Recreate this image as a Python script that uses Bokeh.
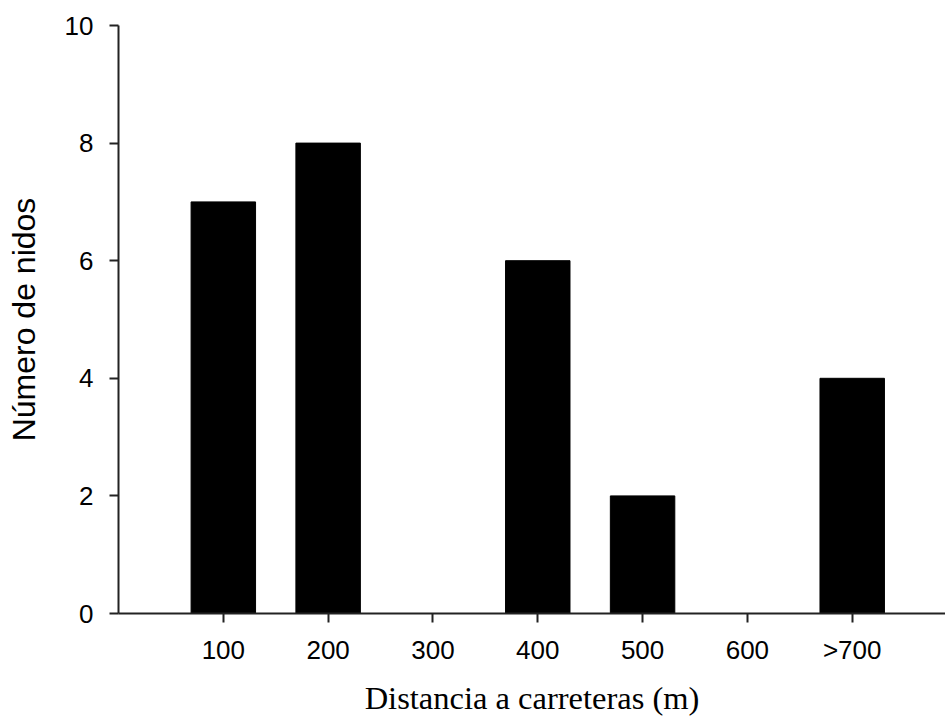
from bokeh.plotting import figure
from bokeh.models import Range1d, FixedTicker, ColumnDataSource
from bokeh.embed import file_html
from bokeh.resources import INLINE

# Nest counts by distance class to the nearest road
categories = ["100", "200", "300", "400", "500", "600", ">700"]
nests = [7, 8, 0, 6, 2, 0, 4]
y_ticks = [0, 2, 4, 6, 8, 10]

positions = list(range(1, len(categories) + 1))
source = ColumnDataSource(dict(x=positions, top=nests, label=categories))

p = figure(
    width=945, height=719,
    output_backend="svg", toolbar_location=None,
    x_range=Range1d(0, 7.89), y_range=Range1d(0, 10),
    min_border_left=118, min_border_right=0,
    min_border_top=25, min_border_bottom=106,
)
p.outline_line_color = None
p.xgrid.visible = False
p.ygrid.visible = False
p.background_fill_color = "white"
p.border_fill_color = "white"

p.vbar(x="x", top="top", bottom=0, width=0.615, source=source,
       fill_color="black", line_color="black", line_width=1)

# x axis: one tick per distance class
xa = p.xaxis[0]
xa.ticker = FixedTicker(ticks=positions)
xa.major_label_overrides = {pos: lab for pos, lab in zip(positions, categories)}
xa.minor_tick_line_color = None
xa.major_tick_in = 0
xa.major_tick_out = 9
xa.axis_line_width = 2
xa.axis_line_color = "#222222"
xa.major_tick_line_width = 2
xa.major_tick_line_color = "#222222"
xa.major_label_text_font = "Liberation Sans"
xa.major_label_text_font_size = "26px"
xa.major_label_text_color = "black"
xa.major_label_standoff = 12
xa.axis_label = "Distancia a carreteras (m)"
xa.axis_label_text_font = "Liberation Serif"
xa.axis_label_text_font_size = "32.5px"
xa.axis_label_text_font_style = "normal"
xa.axis_label_text_color = "black"
xa.axis_label_standoff = 12

# y axis
ya = p.yaxis[0]
ya.ticker = FixedTicker(ticks=y_ticks)
ya.minor_tick_line_color = None
ya.major_tick_in = 0
ya.major_tick_out = 9
ya.axis_line_width = 2
ya.axis_line_color = "#222222"
ya.major_tick_line_width = 2
ya.major_tick_line_color = "#222222"
ya.major_label_text_font = "Liberation Sans"
ya.major_label_text_font_size = "26px"
ya.major_label_text_color = "black"
ya.major_label_standoff = 16
ya.axis_label = "Número de nidos"
ya.axis_label_text_font = "Liberation Sans"
ya.axis_label_text_font_size = "32px"
ya.axis_label_text_font_style = "normal"
ya.axis_label_text_color = "black"
ya.axis_label_standoff = 20

open("out.html", "w").write(file_html(p, INLINE))
